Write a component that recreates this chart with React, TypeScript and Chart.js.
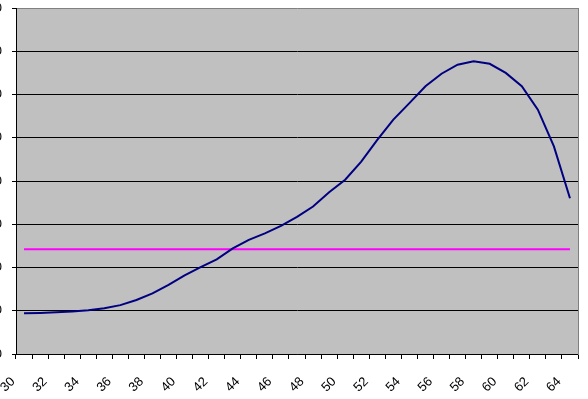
import React, { useEffect, useRef } from "react";
import { Chart, registerables } from "chart.js";

Chart.register(...registerables);

const categories = [
  "30", "31", "32", "33", "34", "35", "36", "37", "38", "39",
  "40", "41", "42", "43", "44", "45", "46", "47", "48", "49",
  "50", "51", "52", "53", "54", "55", "56", "57", "58", "59",
  "60", "61", "62", "63", "64",
];

const shownTicks = [
  "30", "32", "34", "36", "38", "40", "42", "44", "46", "48",
  "50", "52", "54", "56", "58", "60", "62", "64",
];

const curveValues = [
  9.4, 9.5, 9.65, 9.85, 10.1, 10.6, 11.3, 12.5, 14.0, 16.0,
  18.2, 20.1, 21.9, 24.4, 26.4, 27.9, 29.6, 31.7, 34.1, 37.4,
  40.3, 44.5, 49.5, 54.2, 58.0, 61.9, 64.8, 66.9, 67.7, 67.1,
  65.0, 61.9, 56.5, 48.0, 36.0,
];

const levelValues = categories.map(() => 24.2);

const yTicks = { min: 0, max: 80, step: 10 };

const plotBg = {
  id: "plotBg",
  beforeDraw(chart: any) {
    const { ctx, chartArea } = chart;
    if (!chartArea) return;
    ctx.save();
    ctx.fillStyle = "#C0C0C0";
    ctx.fillRect(chartArea.left, chartArea.top, chartArea.right - chartArea.left, chartArea.bottom - chartArea.top);
    ctx.restore();
  },
};

export default function App() {
  const ref = useRef<HTMLCanvasElement | null>(null);
  useEffect(() => {
    if (!ref.current) return;
    const chart = new Chart(ref.current, {
      type: "line",
      data: {
        labels: categories,
        datasets: [
          {
            data: curveValues,
            borderColor: "#000080",
            borderWidth: 2,
            pointRadius: 0,
            tension: 0,
            yAxisID: "y",
          },
          {
            data: levelValues,
            borderColor: "#FF00FF",
            borderWidth: 2,
            pointRadius: 0,
            tension: 0,
            yAxisID: "y",
          },
        ],
      },
      options: {
        responsive: false,
        animation: false,
        layout: { padding: { top: 8, left: 0, right: 0, bottom: 0 } },
        plugins: { legend: { display: false }, tooltip: { enabled: false } },
        scales: {
          x: {
            type: "category",
            offset: true,
            grid: {
              offset: true,
              drawOnChartArea: false,
              drawTicks: true,
              tickLength: 5,
              tickColor: "#000",
            },
            border: { color: "#000", width: 1 },
            ticks: {
              autoSkip: false,
              maxRotation: 45,
              minRotation: 45,
              padding: 15,
              labelOffset: -11,
              color: "#000",
              font: { family: "Liberation Sans, Arial, sans-serif", size: 13 },
              callback: function (this: any, value: any) {
                const lab = categories[value as number];
                return shownTicks.includes(lab) ? lab : "";
              },
            },
            afterFit: (scale: any) => {
              scale.height = 45;
              scale.paddingLeft = 0;
              scale.paddingRight = 0;
              scale.paddingTop = 0;
              scale.paddingBottom = 0;
            },
          },
          y: {
            position: "left",
            min: yTicks.min,
            max: yTicks.max,
            grid: {
              color: (ctx: any) => (ctx.tick && ctx.tick.value === yTicks.max ? "#808080" : "#000"),
              tickColor: "#000",
              tickLength: 4,
              drawTicks: true,
            },
            border: { color: "#000", width: 1 },
            ticks: {
              stepSize: yTicks.step,
              padding: 10,
              color: "#000",
              font: { family: "Liberation Sans, Arial, sans-serif", size: 13 },
            },
            afterFit: (scale: any) => {
              scale.width = 16;
              scale.paddingTop = 0;
              scale.paddingBottom = 0;
              scale.paddingLeft = 0;
              scale.paddingRight = 0;
            },
          },
          y2: {
            position: "right",
            min: yTicks.min,
            max: yTicks.max,
            grid: { drawOnChartArea: false, drawTicks: false },
            border: { color: "#808080", width: 1 },
            ticks: { display: false },
            afterFit: (scale: any) => {
              scale.width = 10;
              scale.paddingTop = 0;
              scale.paddingBottom = 0;
            },
          },
        },
      },
      plugins: [plotBg],
    });
    return () => chart.destroy();
  }, []);
  return (
    <div style={{ position: "absolute", left: 0, top: 0, width: 588, height: 399 }}>
      <canvas ref={ref} width={588} height={399} />
    </div>
  );
}
